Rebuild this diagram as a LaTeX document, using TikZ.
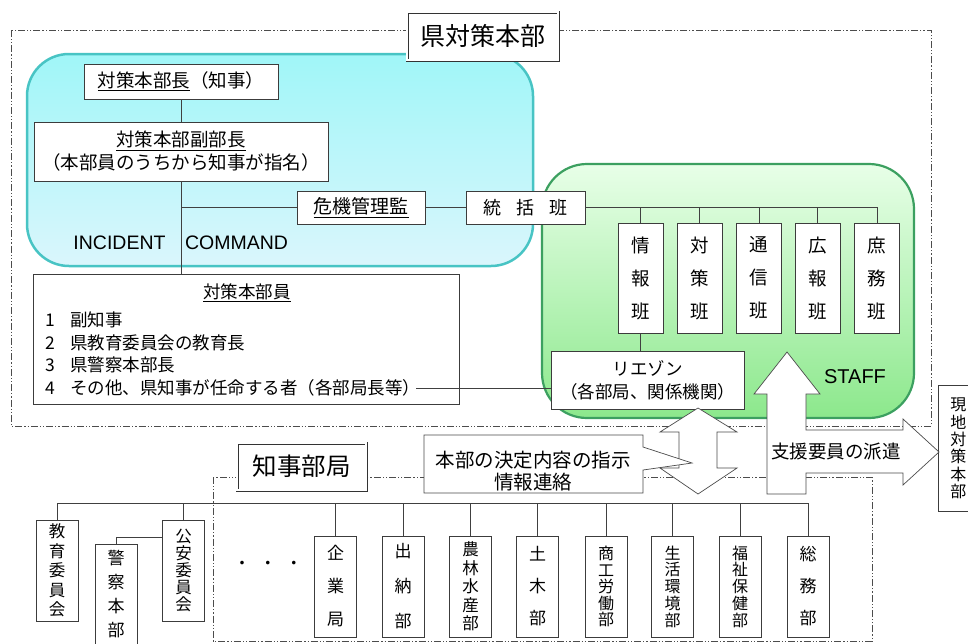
\documentclass[tikz,border=0pt]{standalone}
\usepackage{fontspec}
\setmainfont{Noto Sans CJK JP}
\newfontfamily\latinsans{Liberation Sans}
\usetikzlibrary{calc}
\definecolor{cyantop}{RGB}{160,246,248}
\definecolor{cyanbot}{RGB}{218,246,252}
\definecolor{cyanline}{RGB}{72,196,196}
\definecolor{greentop}{RGB}{232,255,232}
\definecolor{greenbot}{RGB}{140,232,140}
\definecolor{greenline}{RGB}{60,160,96}
\definecolor{boxline}{RGB}{60,60,60}
\newcommand{\fs}[2]{\fontsize{#1}{#2}\selectfont\lineskiplimit=-30pt\relax}
\tikzset{
 nbox/.style={draw=boxline, fill=white, line width=0.8pt, inner sep=0pt, align=center},
 staffbox/.style={nbox, minimum width=45pt, minimum height=110pt},
 vbox/.style={nbox, minimum width=42pt, minimum height=101pt},
 dashframe/.style={draw=black!70, line width=0.7pt, dash pattern=on 7pt off 2pt on 1.2pt off 2pt on 1.2pt off 2pt},
 titlebox/.style={draw=black!80, fill=white, double=white, double distance=1.6pt, line width=0.7pt, inner sep=0pt},
 conn/.style={draw=black!75, line width=0.7pt},
 bigarrow/.style={draw=black!70, fill=white, line width=0.7pt, line join=miter},
 plain/.style={inner sep=0pt, align=center},
}
\begin{document}
\begin{tikzpicture}[x=1pt,y=-1pt]
\clip (0,0) rectangle (968,643);
\fill[white] (0,0) rectangle (968,643);

% dashed frames
\draw[dashframe] (11,30) rectangle (931,426);
\draw[dashframe] (213,477) rectangle (872,641);

% coloured regions
\draw[cyanline, line width=2.5pt, top color=cyantop, bottom color=cyanbot, rounded corners=42pt] (27,54) rectangle (533,266);
\draw[greenline, line width=2.2pt, top color=greentop, bottom color=greenbot, rounded corners=45pt] (542,164) rectangle (914,418);

% titles
\node[titlebox, minimum width=151pt, minimum height=48pt, font=\fs{25}{30}] (ken) at (482.5,36) {県対策本部};
\node[titlebox, minimum width=129pt, minimum height=47pt, font=\fs{24.5}{30}] (chiji) at (301.5,466.5) {知事部局};

% command nodes
\node[nbox, minimum width=194pt, minimum height=35pt, font=\fs{18.5}{22}] (chief) at (181,81.5) {\underline{対策本部長}（知事）};
\node[nbox, minimum width=294pt, minimum height=59pt, font=\fs{18.5}{23}] (vice) at (181,151.5) {\underline{対策本部副部長}\\（本部員のうちから知事が指名）};
\node[nbox, minimum width=128pt, minimum height=33pt, font=\fs{19}{22}] (kiki) at (361,207.5) {\underline{危機管理監}};
\node[nbox, minimum width=119pt, minimum height=33pt, font=\fs{18}{22}] (tokatsu) at (525.5,207.5) {統\hspace{15pt}括\hspace{15pt}班};

% staff sections
\node[staffbox, font=\fs{18.5}{33}] (joho) at (640.5,278) {情\\報\\班};
\node[staffbox, font=\fs{18.5}{33}] (taisaku) at (699.5,278) {対\\策\\班};
\node[staffbox, font=\fs{18.5}{33}] (tsushin) at (759,278) {通\\信\\班};
\node[staffbox, font=\fs{18.5}{33}] (koho) at (817.5,278) {広\\報\\班};
\node[staffbox, font=\fs{18.5}{33}] (shomu) at (877,278) {庶\\務\\班};

\node[nbox, minimum width=193pt, minimum height=58pt, font=\fs{17.5}{23}] (liaison) at (647.5,380) {リエゾン\\（各部局、関係機関）};

% members
\node[nbox, minimum width=426pt, minimum height=130pt] (members) at (246,339) {};
\node[plain, font=\fs{17.5}{22}] (memtitle) at (247,293) {\underline{対策本部員}};
\node[plain, anchor=west, align=left, font=\fs{17.5}{22.7}] (memlist) at (45,354)
 {\makebox[25pt][l]{1}副知事\\
  \makebox[25pt][l]{2}県教育委員会の教育長\\
  \makebox[25pt][l]{3}県警察本部長\\
  \makebox[25pt][l]{4}その他、県知事が任命する者（各部局長等）};
\coordinate (m4) at (416,388);

% labels
\node[plain, font=\latinsans\fs{19.5}{24}] (ic1) at (119.5,243) {INCIDENT};
\node[plain, font=\latinsans\fs{19.5}{24}] (ic2) at (236.5,243) {COMMAND};
\node[plain, font=\latinsans\fs{20}{24}] (staff) at (855,377) {STAFF};

% command connectors
\draw[conn] (chief) -- (vice);
\draw[conn] (vice.south) -- (vice.south |- members.north);
\draw[conn] (vice.south |- kiki.west) -- (kiki.west);
\draw[conn] (kiki) -- (tokatsu);
\draw[conn] (tokatsu.east) -- (tokatsu.east -| shomu.north) -- (shomu.north);
\foreach \n in {joho,taisaku,tsushin,koho} \draw[conn] (\n.north |- tokatsu.east) -- (\n.north);
\draw[conn] (joho.south) -- (joho.south |- liaison.north);
\draw[conn] (m4) -- (m4 -| liaison.west);

% governor's departments
\node[vbox, font=\fs{16.5}{19.5}] (kyoiku) at (57,570.5) {教\\育\\委\\員\\会};
\node[vbox, font=\fs{16.5}{17}] (koan) at (183.5,570.5) {公\\安\\委\\員\\会};
\node[vbox, minimum height=100pt, font=\fs{17}{24}] (keisatsu) at (116,594) {警\\察\\本\\部};
\node[vbox, font=\fs{17}{33}] (kigyo) at (335.5,586.5) {企\\業\\局};
\node[vbox, font=\fs{17}{35}] (suito) at (403,586.5) {出\\納\\部};
\node[vbox, font=\fs{16.5}{18.5}] (norin) at (470.5,586.5) {農\\林\\水\\産\\部};
\node[vbox, font=\fs{17}{32}] (doboku) at (537.5,586.5) {土\\木\\部};
\node[vbox, font=\fs{16}{16.5}] (shoko) at (606,586.5) {商\\工\\労\\働\\部};
\node[vbox, font=\fs{16}{16.75}] (seikatsu) at (672.5,586.5) {生\\活\\環\\境\\部};
\node[vbox, font=\fs{16}{16.75}] (fukushi) at (740,586.5) {福\\祉\\保\\健\\部};
\node[vbox, font=\fs{17}{32}] (somu) at (808,586.5) {総\\務\\部};
\node[plain, font=\fs{17}{20}] (dots) at (268,565) {・\hspace{9pt}・\hspace{9pt}・};

\coordinate (bus) at (0,503);
\coordinate (kp) at (0,537);
\draw[conn] (kyoiku.north) -- (kyoiku.north |- bus) -- (somu.north |- bus) -- (somu.north);
\foreach \n in {koan,kigyo,suito,norin,doboku,shoko,seikatsu,fukushi} \draw[conn] (\n.north |- bus) -- (\n.north);
\draw[conn] (keisatsu.north) -- (keisatsu.north |- kp) -- (koan.west |- kp);

% on-site HQ
\node[nbox, anchor=north west, minimum width=40pt, minimum height=126pt, font=\fs{16}{17.4}] (genchi) at (938,385) {現\\地\\対\\策\\本\\部};

% double arrow
\draw[bigarrow] (698,408) -- (737,432) -- (717,432) -- (717,468) -- (737,468) -- (698,494) -- (660,468) -- (679,468) -- (679,432) -- (660,432) -- cycle;
% callout
\draw[bigarrow] (424,435) -- (643,435) -- (643,447) -- (692,463) -- (643,470) -- (643,493) -- (424,493) -- cycle;
\node[plain, font=\fs{19.5}{22}] (callout) at (533,471) {本部の決定内容の指示\\情報連絡};
% support arrow
\draw[bigarrow] (767,494) -- (767,394) -- (754,394) -- (787,352) -- (820,394) -- (806,394) -- (806,430) -- (903,430) -- (903,419) -- (939,452) -- (903,485) -- (903,473) -- (806,473) -- (806,494) -- cycle;
\node[plain, font=\fs{18.5}{22}] (shien) at (836,452) {支援要員の派遣};
\end{tikzpicture}
\end{document}
